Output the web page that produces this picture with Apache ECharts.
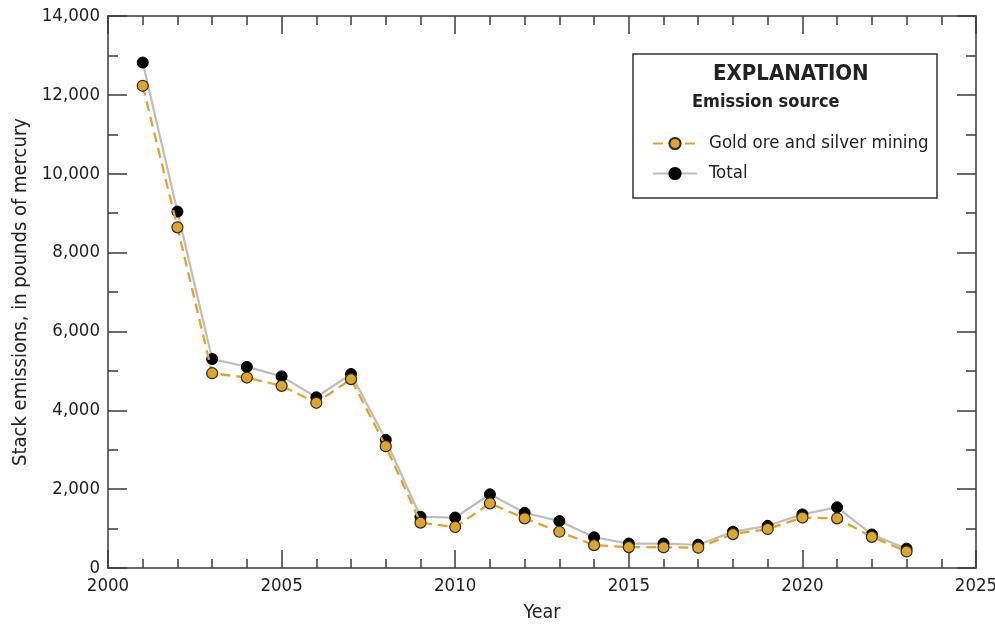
<!DOCTYPE html>
<html>
<head>
<meta charset="utf-8">
<script src="https://cdn.jsdelivr.net/npm/echarts@6/dist/echarts.min.js"></script>
<style>
html,body{margin:0;padding:0;background:#fff;}
#chart{width:995px;height:630px;}
</style>
</head>
<body>
<div id="chart"></div>
<script>
const years = [2001,2002,2003,2004,2005,2006,2007,2008,2009,2010,2011,2012,2013,2014,2015,2016,2017,2018,2019,2020,2021,2022,2023];
const goldSilver = [12230,8640,4940,4830,4620,4190,4790,3090,1150,1040,1640,1260,920,580,530,525,515,860,990,1280,1260,790,420];
const total = [12820,9040,5300,5100,4860,4330,4920,3250,1300,1280,1870,1400,1190,780,620,620,590,920,1070,1360,1540,850,490];
const xTicks = [2000,2005,2010,2015,2020,2025];
const yTicks = [0,2000,4000,6000,8000,10000,12000,14000];

const FONT = '"DejaVu Sans Condensed","Liberation Sans Narrow",sans-serif';
const AX = '#3a3a3a';

const chart = echarts.init(document.getElementById('chart'));
function xAx(pos, labels){
  return {
    type:'value', position:pos, min:xTicks[0], max:xTicks[xTicks.length-1], interval:5,
    axisLine:{show:true, onZero:false, lineStyle:{color:AX, width:1.5}},
    axisTick:{show:true, inside:true, length:18, lineStyle:{color:AX, width:1.5}},
    minorTick:{show:true, splitNumber:5, length:9, lineStyle:{color:AX, width:1.5}},
    splitLine:{show:false},
    axisLabel:{show:labels, color:'#222', fontFamily:FONT, fontSize:18.5, margin:9,
      formatter:v=>String(v)},
    name: labels ? 'Year' : '', nameLocation:'middle', nameGap:35,
    nameTextStyle:{color:'#222', fontFamily:FONT, fontSize:19.5}
  };
}
function yAx(pos, labels){
  return {
    type:'value', position:pos, min:yTicks[0], max:yTicks[yTicks.length-1], interval:2000,
    axisLine:{show:true, onZero:false, lineStyle:{color:AX, width:1.5}},
    axisTick:{show:true, inside:true, length:19, lineStyle:{color:AX, width:1.5}},
    minorTick:{show:true, splitNumber:2, length:10, lineStyle:{color:AX, width:1.5}},
    splitLine:{show:false},
    axisLabel:{show:labels, color:'#222', fontFamily:FONT, fontSize:18.5, margin:8,
      formatter:v=>v.toLocaleString('en-US')},
    name: labels ? 'Stack emissions, in pounds of mercury' : '', nameLocation:'middle', nameGap:75,
    nameTextStyle:{color:'#222', fontFamily:FONT, fontSize:20}
  };
}

chart.setOption({
  animation:false,
  backgroundColor:'#fff',
  grid:{left:108, right:19, top:16, bottom:62, containLabel:false, outerBoundsMode:'none'},
  xAxis:[xAx('bottom', true), xAx('top', false)],
  yAxis:[yAx('left', true), yAx('right', false)],
  legend:{
    orient:'vertical', left:647, top:129, itemGap:11, itemWidth:44, itemHeight:14,
    textStyle:{color:'#222', fontFamily:FONT, fontSize:18.5, padding:[0,0,0,7]},
    data:['Gold ore and silver mining','Total']
  },
  graphic:[
    {type:'rect', shape:{x:633, y:54, width:304, height:144}, style:{fill:'#fff', stroke:'#333', lineWidth:1.5}, z:-1},
    {type:'text', left:713, top:63, style:{text:'EXPLANATION', fill:'#222', font:'bold 22px '+FONT}},
    {type:'text', left:692, top:93, style:{text:'Emission source', fill:'#222', font:'bold 18px '+FONT}}
  ],
  series:[
    {name:'Total', type:'line', data:years.map((y,i)=>[y,total[i]]),
     symbol:'circle', symbolSize:11, z:2,
     lineStyle:{color:'#bdbdbd', width:2.2},
     itemStyle:{color:'#000', borderColor:'#000', borderWidth:1}},
    {name:'Gold ore and silver mining', type:'line', data:years.map((y,i)=>[y,goldSilver[i]]),
     symbol:'circle', symbolSize:11, z:3,
     lineStyle:{color:'#e0a526', width:2.3, type:[10,6]},
     itemStyle:{color:'#e0a526', borderColor:'#2a2a2a', borderWidth:1.2}}
  ]
});
</script>
</body>
</html>
